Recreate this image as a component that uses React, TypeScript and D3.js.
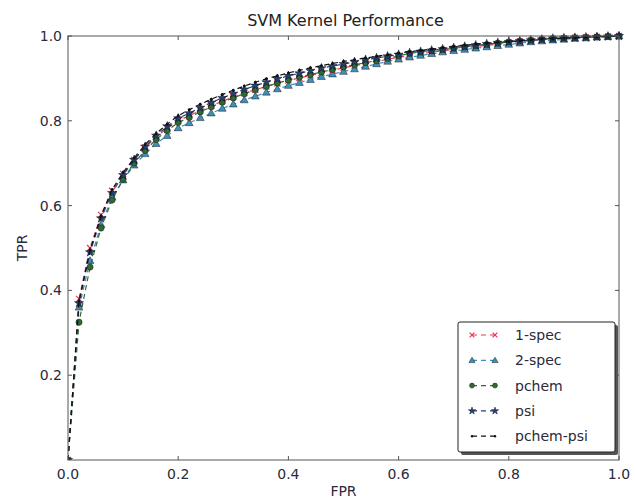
import React from "react";
import * as d3 from "d3";

const fpr = [0, 0.02, 0.04, 0.06, 0.08, 0.1, 0.12, 0.14, 0.16, 0.18, 0.2, 0.22, 0.24, 0.26, 0.28, 0.3, 0.32, 0.34, 0.36, 0.38, 0.4, 0.42, 0.44, 0.46, 0.48, 0.5, 0.52, 0.54, 0.56, 0.58, 0.6, 0.62, 0.64, 0.66, 0.68, 0.7, 0.72, 0.74, 0.76, 0.78, 0.8, 0.82, 0.84, 0.86, 0.88, 0.9, 0.92, 0.94, 0.96, 0.98, 1.0];

const spec1 = [0, 0.38, 0.50, 0.578, 0.635, 0.675, 0.708, 0.737, 0.762, 0.782, 0.80, 0.812, 0.824, 0.835, 0.846, 0.856, 0.865, 0.873, 0.881, 0.888, 0.895, 0.901, 0.907, 0.913, 0.919, 0.925, 0.930, 0.935, 0.940, 0.945, 0.950, 0.954, 0.958, 0.962, 0.965, 0.968, 0.972, 0.975, 0.978, 0.981, 0.984, 0.987, 0.989, 0.991, 0.993, 0.995, 0.996, 0.997, 0.998, 0.999, 1.0];
const spec2 = [0, 0.36, 0.47, 0.555, 0.62, 0.66, 0.695, 0.722, 0.746, 0.765, 0.783, 0.795, 0.807, 0.818, 0.829, 0.839, 0.849, 0.858, 0.867, 0.875, 0.883, 0.890, 0.897, 0.904, 0.910, 0.916, 0.922, 0.928, 0.934, 0.940, 0.945, 0.950, 0.954, 0.958, 0.962, 0.965, 0.968, 0.971, 0.974, 0.977, 0.980, 0.983, 0.986, 0.988, 0.990, 0.992, 0.994, 0.995, 0.997, 0.998, 1.0];
const pchem = [0, 0.325, 0.455, 0.547, 0.613, 0.662, 0.70, 0.73, 0.756, 0.777, 0.796, 0.808, 0.821, 0.833, 0.844, 0.854, 0.864, 0.873, 0.881, 0.889, 0.896, 0.903, 0.909, 0.915, 0.921, 0.927, 0.932, 0.937, 0.942, 0.947, 0.953, 0.959, 0.962, 0.965, 0.968, 0.971, 0.974, 0.977, 0.980, 0.983, 0.986, 0.988, 0.990, 0.992, 0.994, 0.995, 0.996, 0.997, 0.998, 0.999, 1.0];
const psi = [0, 0.37, 0.49, 0.57, 0.63, 0.672, 0.708, 0.739, 0.765, 0.787, 0.806, 0.818, 0.831, 0.843, 0.854, 0.864, 0.874, 0.883, 0.891, 0.899, 0.906, 0.912, 0.918, 0.924, 0.929, 0.934, 0.939, 0.944, 0.948, 0.952, 0.956, 0.960, 0.963, 0.966, 0.969, 0.972, 0.975, 0.978, 0.981, 0.984, 0.986, 0.988, 0.990, 0.992, 0.994, 0.995, 0.996, 0.997, 0.998, 0.999, 1.0];
const pchemPsi = [0, 0.375, 0.495, 0.575, 0.638, 0.678, 0.712, 0.744, 0.77, 0.792, 0.812, 0.826, 0.839, 0.851, 0.862, 0.872, 0.882, 0.891, 0.899, 0.906, 0.913, 0.919, 0.925, 0.930, 0.935, 0.940, 0.944, 0.948, 0.952, 0.956, 0.960, 0.963, 0.966, 0.969, 0.972, 0.975, 0.978, 0.981, 0.983, 0.985, 0.987, 0.989, 0.991, 0.993, 0.994, 0.995, 0.996, 0.997, 0.998, 0.999, 1.0];

const seriesNames = ["1-spec", "2-spec", "pchem", "psi", "pchem-psi"];
const seriesValues = [spec1, spec2, pchem, psi, pchemPsi];
const seriesColors = ["#e8394f", "#3d8fbd", "#2f6b2f", "#22407a", "#111111"];
const seriesMarkers = ["x", "triangle", "circle", "star", "point"];
const xTicks = [0, 0.2, 0.4, 0.6, 0.8, 1.0];
const yTicks = [0.2, 0.4, 0.6, 0.8, 1.0];

const W = 636, H = 499;
const L = 68, R = 619, T = 36, B = 460;

function Marker({ kind, x, y, color, k = 1 }: { kind: string; x: number; y: number; color: string; k?: number }) {
  if (kind === "x") {
    const s = 3 * k;
    return (
      <path d={`M${x - s},${y - s}L${x + s},${y + s}M${x - s},${y + s}L${x + s},${y - s}`} stroke={color} strokeWidth={1.2} fill="none" />
    );
  }
  if (kind === "triangle") {
    const p = d3.symbol(d3.symbolTriangle, 26 * k * k)();
    return <path d={p as string} transform={`translate(${x},${y + 0.5})`} fill={color} stroke="#1a1a1a" strokeWidth={0.5} />;
  }
  if (kind === "circle") {
    return <circle cx={x} cy={y} r={3.1 * k} fill={color} stroke="#1a1a1a" strokeWidth={0.5} />;
  }
  if (kind === "star") {
    const p = d3.symbol(d3.symbolStar, 26 * k * k)();
    return <path d={p as string} transform={`translate(${x},${y})`} fill={color} stroke="#111" strokeWidth={0.5} />;
  }
  return <circle cx={x} cy={y} r={1.5 * k} fill={color} />;
}

export default function App() {
  const x = d3.scaleLinear().domain([0, 1]).range([L, R]);
  const y = d3.scaleLinear().domain([0, 1]).range([B, T]);
  const line = d3.line<number>().x((_, i) => x(fpr[i])).y((v) => y(v));
  const font = "DejaVu Sans, sans-serif";
  const legX = 458, legY = 322, legW = 157, legH = 130;

  return (
    <svg width={W} height={H} style={{ position: "absolute", left: 0, top: 0, background: "#fff" }}>
      <rect x={0} y={0} width={W} height={H} fill="#fff" />
      <defs>
        <clipPath id="plot">
          <rect x={L} y={T - 6} width={R - L + 6} height={B - T + 6} />
        </clipPath>
      </defs>
      <g clipPath="url(#plot)">
        {seriesValues.map((vals, si) => (
          <g key={si}>
            <path d={line(vals) as string} fill="none" stroke={seriesColors[si]} strokeWidth={1.2} strokeDasharray="5,4" />
            {vals.map((v, i) => (
              <Marker key={i} kind={seriesMarkers[si]} x={x(fpr[i])} y={y(v)} color={seriesColors[si]} />
            ))}
          </g>
        ))}
      </g>
      <rect x={L} y={T} width={R - L} height={B - T} fill="none" stroke="#555" strokeWidth={1} />
      {xTicks.map((t) => (
        <g key={"x" + t}>
          <line x1={x(t)} x2={x(t)} y1={B} y2={B - 4} stroke="#555" />
          <line x1={x(t)} x2={x(t)} y1={T} y2={T + 4} stroke="#555" />
          <text x={x(t)} y={B + 19} textAnchor="middle" fontFamily={font} fontSize={14} fill="#2a2a3a">
            {t.toFixed(1)}
          </text>
        </g>
      ))}
      {yTicks.map((t) => (
        <g key={"y" + t}>
          <line x1={L} x2={L + 4} y1={y(t)} y2={y(t)} stroke="#555" />
          <line x1={R} x2={R - 4} y1={y(t)} y2={y(t)} stroke="#555" />
          <text x={L - 6} y={y(t) + 5} textAnchor="end" fontFamily={font} fontSize={14} fill="#2a2a3a">
            {t.toFixed(1)}
          </text>
        </g>
      ))}
      <text x={(L + R) / 2 + 2} y={26} textAnchor="middle" fontFamily={font} fontSize={16} fill="#222">
        SVM Kernel Performance
      </text>
      <text x={(L + R) / 2} y={496} textAnchor="middle" fontFamily={font} fontSize={14} fill="#2a2a3a">
        FPR
      </text>
      <text transform={`translate(27,${(T + B) / 2}) rotate(-90)`} textAnchor="middle" fontFamily={font} fontSize={14} fill="#2a2a3a">
        TPR
      </text>
      <rect x={legX + 3} y={legY + 3} width={legW} height={legH} rx={2} fill="#555" />
      <rect x={legX} y={legY} width={legW} height={legH} rx={2} fill="#fff" stroke="#222" strokeWidth={1} />
      {seriesNames.map((name, si) => {
        const cy = legY + 13 + si * 25.3;
        return (
          <g key={name}>
            <line x1={472} x2={495} y1={cy} y2={cy} stroke={seriesColors[si]} strokeWidth={1.2} strokeDasharray="5,4" />
            <Marker kind={seriesMarkers[si]} x={472} y={cy} color={seriesColors[si]} k={0.8} />
            <Marker kind={seriesMarkers[si]} x={495} y={cy} color={seriesColors[si]} k={0.8} />
            <text x={515} y={cy + 5} fontFamily={font} fontSize={14} fill="#2a2a3a">
              {name}
            </text>
          </g>
        );
      })}
    </svg>
  );
}
